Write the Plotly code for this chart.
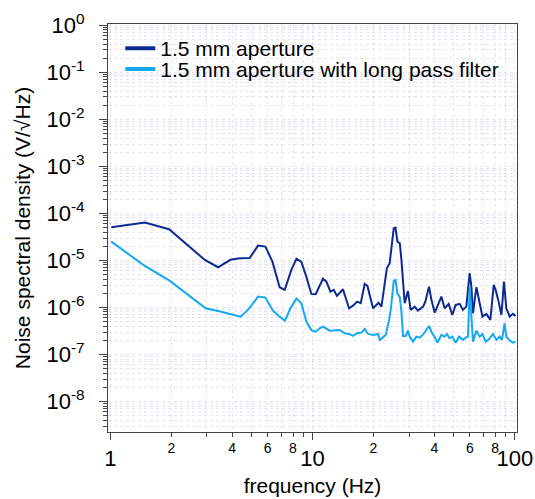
import plotly.graph_objects as go

# ---- data ----
freq_a = [1.01, 1.48, 1.95, 2.93, 3.41, 3.92, 4.36, 4.89, 5.37, 5.84, 6.33, 6.87, 7.28, 7.85, 8.32, 8.80,
          9.31, 9.86, 10.36, 10.84, 11.26, 11.70, 12.25, 12.72, 13.2, 14.13, 15.14, 15.85, 16.6, 17.3,
          18.1, 18.67, 19.9, 21.2, 21.9, 23.3, 24.05, 25.2, 25.7, 26.27, 27.0, 27.5, 28.55, 29.6, 30.55,
          32.0, 33.2, 35.2, 36.1, 37.65, 38.7, 40.2, 41.7, 43.35, 45.0, 47.1, 49.1, 51.0, 53.4, 55.4,
          57.6, 59.8, 61.0, 62.1, 64.6, 66.5, 69.2, 72.4, 75.7, 78.7, 80.4, 83.2, 85.9, 88.4, 90.8,
          94.4, 97.9, 100.9]
psd_a = [5.1e-5, 6.37e-5, 4.61e-5, 1.025e-5, 7.16e-6, 1.03e-5, 1.11e-5, 1.13e-5, 2.07e-5, 1.97e-5,
         9.4e-6, 2.69e-6, 2.36e-6, 6.28e-6, 1.09e-5, 9.3e-6, 4.52e-6, 1.94e-6, 1.91e-6, 3.01e-6,
         4.10e-6, 3.54e-6, 2.17e-6, 2.36e-6, 1.76e-6, 2.44e-6, 9.6e-7, 1.09e-6, 1.33e-6, 1.23e-6,
         3.16e-6, 2.87e-6, 9.6e-7, 1.26e-6, 1.04e-6, 6.82e-6, 8.7e-6, 4.84e-5, 4.99e-5, 2.51e-5,
         2.32e-5, 1.03e-5, 1.23e-6, 2.24e-6, 8.85e-7, 1.04e-6, 8.55e-7, 1.04e-6, 1.33e-6, 2.77e-6,
         1.45e-6, 7.75e-7, 1.13e-6, 1.70e-6, 9.6e-7, 1.19e-6, 6.9e-7, 1.13e-6, 1.19e-6, 8.85e-7,
         1.04e-6, 5.35e-6, 2.77e-6, 7.5e-7, 2.69e-6, 1.45e-6, 6.4e-7, 7.3e-7, 5.4e-7, 3.01e-6,
         2.36e-6, 1.33e-6, 6.9e-7, 3.54e-6, 9.6e-7, 6.4e-7, 7.3e-7, 6.6e-7]

freq_b = [1.01, 1.48, 1.96, 2.96, 3.41, 3.89, 4.41, 4.85, 5.37, 5.84, 6.37, 6.87, 7.30, 7.77, 8.32,
          8.80, 9.31, 9.86, 10.36, 10.84, 11.26, 12.15, 13.6, 14.4, 15.14, 15.85, 16.6, 17.43, 18.1,
          18.8, 20.05, 21.06, 21.5, 23.0, 23.9, 24.4, 25.2, 25.7, 26.27, 27.0, 27.5, 28.0, 28.9, 29.6,
          30.2, 31.4, 32.6, 33.9, 35.4, 37.65, 38.7, 40.2, 41.4, 43.35, 45.0, 46.2, 47.6, 49.1, 51.0,
          53.0, 55.4, 57.6, 58.7, 59.8, 61.0, 62.1, 64.6, 67.1, 69.2, 71.8, 74.5, 78.0, 81.1, 84.2,
          86.4, 89.1, 90.8, 94.4, 97.9, 100.9]
psd_b = [2.51e-5, 7.63e-6, 3.72e-6, 9.6e-7, 8.43e-7, 7.38e-7, 6.37e-7, 9.42e-7, 1.70e-6, 1.62e-6,
         8.55e-7, 6.37e-7, 5.24e-7, 9.6e-7, 1.54e-6, 1.23e-6, 4.99e-7, 3.29e-7, 3.05e-7, 3.6e-7,
         3.9e-7, 3.21e-7, 3.32e-7, 2.82e-7, 2.73e-7, 2.48e-7, 2.82e-7, 2.91e-7, 3.49e-7, 2.73e-7,
         2.6e-7, 2.73e-7, 2.04e-7, 2.6e-7, 5.42e-7, 9.6e-7, 3.66e-6, 3.85e-6, 2.0e-6, 1.65e-6,
         8.15e-7, 2.48e-7, 2.48e-7, 3.21e-7, 2.39e-7, 1.87e-7, 2.39e-7, 2.28e-7, 2.73e-7, 4.04e-7,
         3.05e-7, 2.32e-7, 1.78e-7, 2.6e-7, 2.39e-7, 2.73e-7, 2.21e-7, 2.39e-7, 1.78e-7, 2.39e-7,
         2.04e-7, 2.32e-7, 2.39e-7, 2.69e-6, 7.5e-7, 1.87e-7, 3.21e-7, 2.39e-7, 2.73e-7, 1.87e-7,
         2.1e-7, 2.73e-7, 2.04e-7, 2.39e-7, 2.04e-7, 4.61e-7, 2.39e-7, 1.97e-7, 1.78e-7, 1.87e-7]

name_a = "1.5 mm aperture"
name_b = "1.5 mm aperture with long pass filter"

x_major_vals = [1, 10, 100]
x_major_text = ["1", "10", "100"]
x_minor_label_vals = [2, 4, 6, 8, 20, 40, 60, 80]
x_minor_vals = [m * d for d in (1, 10) for m in range(2, 10)]
y_major_exps = [0, -1, -2, -3, -4, -5, -6, -7, -8]
y_major_vals = [10.0 ** e for e in y_major_exps]
y_major_text = ["10<sup>%d</sup>" % e for e in y_major_exps]
y_minor_vals = [m * 10.0 ** e for e in range(-9, 0) for m in range(2, 10)]

col_a = "#0c2a92"
col_b = "#13a9f2"
FONT = "Liberation Sans, Arial, Helvetica, sans-serif"
grid_col = "rgba(200,200,232,0.5)"

fig = go.Figure()
fig.add_trace(go.Scatter(x=freq_a, y=psd_a, mode="lines", line=dict(color=col_a, width=2),
                         showlegend=False))
fig.add_trace(go.Scatter(x=freq_b, y=psd_b, mode="lines", line=dict(color=col_b, width=2),
                         showlegend=False))
# legend entries (thicker sample lines), one legend box per entry for tight spacing
fig.add_trace(go.Scatter(x=[None], y=[None], mode="lines", line=dict(color=col_a, width=4),
                         name=name_a, legend="legend"))
fig.add_trace(go.Scatter(x=[None], y=[None], mode="lines", line=dict(color=col_b, width=4),
                         name=name_b, legend="legend2"))
# carrier for the secondary (minor-label) x axis
fig.add_trace(go.Scatter(x=[None], y=[None], xaxis="x2", showlegend=False, hoverinfo="skip"))

xr = [-0.012, 2.011]
leg_common = dict(x=0.03, xanchor="left", yanchor="top", bgcolor="rgba(0,0,0,0)",
                  font=dict(size=21, family=FONT), itemwidth=30)
fig.update_layout(
    width=535, height=499,
    margin=dict(l=108, r=18, t=24, b=67, autoexpand=False),
    paper_bgcolor="white", plot_bgcolor="white",
    font=dict(family=FONT, color="black"),
    showlegend=True,
    legend=dict(y=0.99, **leg_common),
    legend2=dict(y=0.939, **leg_common),
    xaxis=dict(type="log", range=xr, showline=True, mirror=True, linecolor="#444", linewidth=1,
               tickmode="array", tickvals=x_major_vals, ticktext=x_major_text,
               ticks="outside", ticklen=7, tickcolor="#444", tickfont=dict(size=22),
               ticklabelstandoff=0,
               showgrid=True, gridcolor=grid_col, griddash="dot", gridwidth=1,
               minor=dict(tickvals=x_minor_vals, ticks="outside", ticklen=4, tickcolor="#444",
                          showgrid=True, gridcolor=grid_col, griddash="dot", gridwidth=1),
               title=dict(text="frequency (Hz)", font=dict(size=21), standoff=7),
               zeroline=False),
    xaxis2=dict(type="log", range=xr, overlaying="x", anchor="y", side="bottom",
                showline=False, showgrid=False, zeroline=False,
                tickmode="array", tickvals=x_minor_label_vals,
                ticktext=[str(v)[0] for v in x_minor_label_vals],
                ticks="outside", ticklen=3, tickcolor="#444", tickfont=dict(size=14)),
    yaxis=dict(type="log", range=[-8.65, 0.03], showline=True, mirror=True, linecolor="#444",
               linewidth=1, tickmode="array", tickvals=y_major_vals, ticktext=y_major_text,
               ticks="outside", ticklen=8, tickcolor="#444", tickfont=dict(size=22),
               ticklabelstandoff=10,
               showgrid=True, gridcolor=grid_col, griddash="dot", gridwidth=1,
               minor=dict(tickvals=y_minor_vals, ticks="outside", ticklen=4, tickcolor="#444",
                          showgrid=True, gridcolor=grid_col, griddash="dot", gridwidth=1),
               title=dict(text="Noise spectral density (V/√Hz)", font=dict(size=21), standoff=10),
               zeroline=False),
)

fig.write_html("out.html")
